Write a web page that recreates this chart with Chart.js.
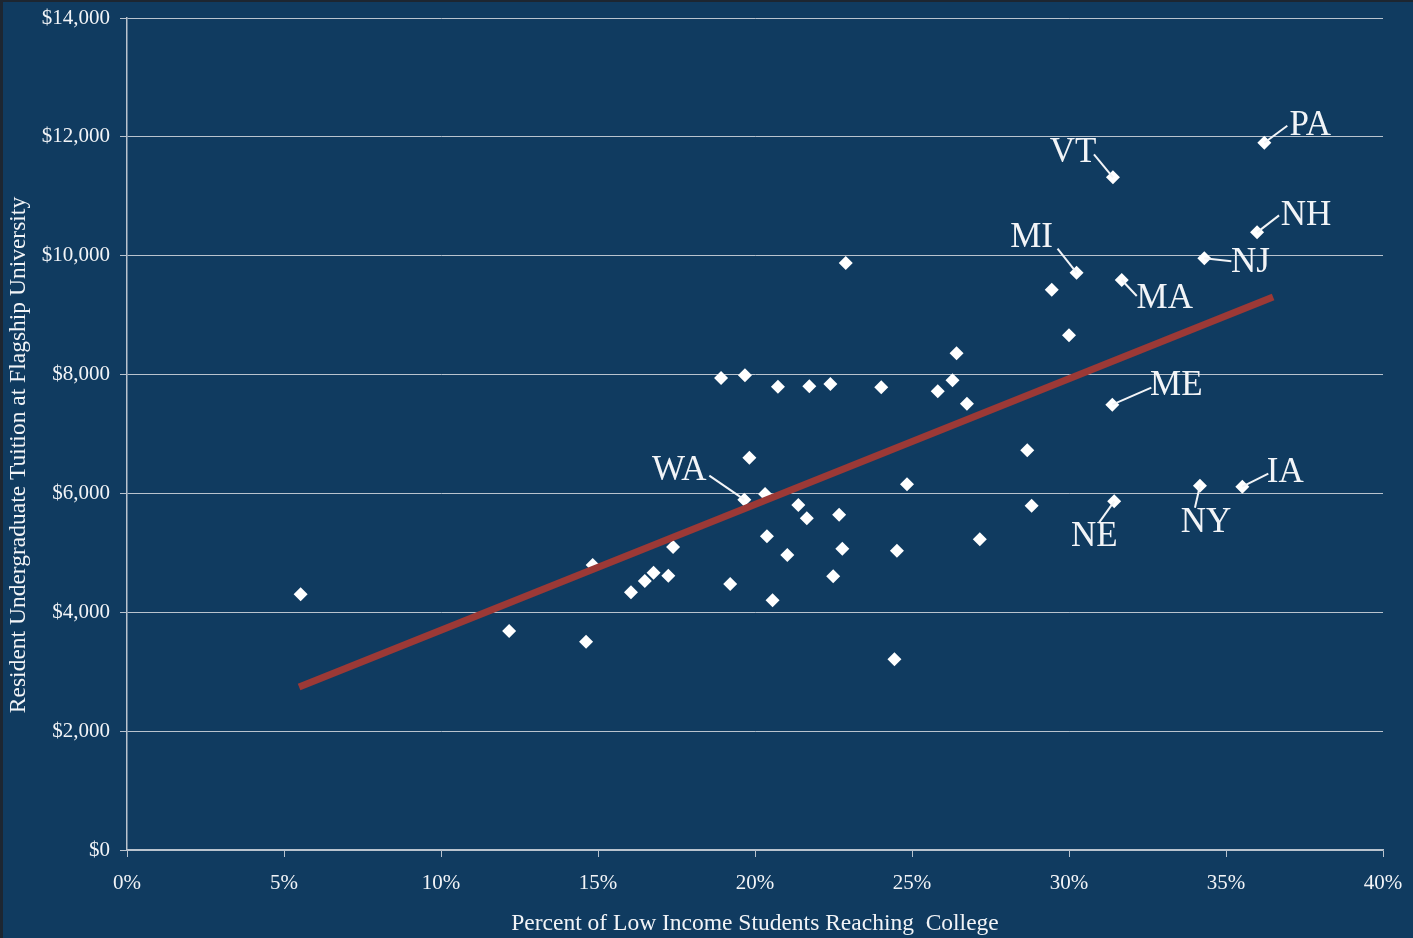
<!DOCTYPE html>
<html>
<head>
<meta charset="utf-8">
<script src="https://cdn.jsdelivr.net/npm/chart.js@4/dist/chart.umd.min.js"></script>
<style>
  html, body { margin: 0; padding: 0; background: #1d2631; overflow: hidden; }
  #wrap { position: absolute; left: 3px; top: 2px; width: 1410px; height: 936px; background: #103b60; }
</style>
</head>
<body>
<div id="wrap"><canvas id="lienzo" width="1410" height="936"></canvas></div>
<script>
// percent of low income students reaching college, per state
const pct = [
  5.53, 12.17, 14.62, 14.83, 16.05, 16.49, 16.77, 17.24, 17.39, 22.89,
  30.24, 29.45, 30.0, 26.42, 18.92, 19.68, 20.73, 21.73, 22.40, 24.02,
  26.29, 25.82, 26.75, 28.67, 19.82, 24.84, 19.66, 20.32, 21.38, 21.65,
  22.68, 28.81, 20.38, 21.03, 22.78, 24.52, 27.16, 19.21, 22.49, 20.56,
  24.44, 36.22, 31.40, 35.99, 34.31, 31.68, 31.38, 31.44, 34.17, 35.52
]
// resident undergraduate tuition at flagship university ($)
const tuition = [
  4302, 3685, 3505, 4796, 4336, 4526, 4667, 4616, 5098, 9877,
  9714, 9428, 8660, 8357, 7942, 7987, 7796, 7802, 7841, 7785,
  7903, 7718, 7510, 6725, 6601, 6153, 5895, 5990, 5805, 5581,
  5642, 5794, 5278, 4964, 5070, 5036, 5228, 4476, 4605, 4201,
  3209, 11902, 11319, 10393, 9956, 9591, 7493, 5867, 6130, 6114
]
const estado = [
  '', '', '', '', '', '', '', '', '', '',
  'MI', '', '', '', '', '', '', '', '', '',
  '', '', '', '', '', '', 'WA', '', '', '',
  '', '', '', '', '', '', '', '', '', '',
  '', 'PA', 'VT', 'NH', 'NJ', 'MA', 'ME', 'NE', 'NY', 'IA'
]
// trend line end points
const tendX = [5.48, 36.50]
const tendY = [2743, 9305]

const xTicks = [0, 5, 10, 15, 20, 25, 30, 35, 40]
const yTicks = [0, 2000, 4000, 6000, 8000, 10000, 12000, 14000]

const tituloX = 'Percent of Low Income Students Reaching  College'
const tituloY = 'Resident Undergraduate Tuition at Flagship University'

// label placement: [text dx, text baseline dy, leader end dx, leader end dy]
const etiquetas = {
  PA: [46, -8, 23, -17],
  VT: [-40, -15, -19, -23],
  NH: [49, -7, 22, -17],
  NJ: [46, 14, 27, 3],
  MI: [-45, -26, -19, -24],
  MA: [43, 28, 15, 16],
  ME: [64, -10, 39, -17],
  IA: [43, -5, 26, -13],
  NY: [6, 46, -5, 22],
  NE: [-20, 45, -15, 21],
  WA: [-65, -20, -35, -24]
}

const fuente = 'Liberation Serif'
const blanco = '#f2f4f7'
const rejilla = '#b9c3ce'

const puntos = pct.map((v, i) => ({x: v, y: tuition[i]}))
const linea = tendX.map((v, i) => ({x: v, y: tendY[i]}))

const nombres = {
  id: 'nombres',
  afterDatasetsDraw(chart) {
    const ctx = chart.ctx
    const meta = chart.getDatasetMeta(1)
    ctx.save()
    ctx.strokeStyle = blanco
    ctx.fillStyle = blanco
    ctx.lineWidth = 2
    ctx.font = '35px "' + fuente + '"'
    ctx.textAlign = 'center'
    ctx.textBaseline = 'alphabetic'
    estado.forEach((s, i) => {
      if (s == '') return
      const p = meta.data[i]
      const e = etiquetas[s]
      ctx.beginPath()
      ctx.moveTo(p.x, p.y)
      ctx.lineTo(p.x + e[2], p.y + e[3])
      ctx.stroke()
      ctx.fillText(s, p.x + e[0], p.y + e[1])
    })
    ctx.restore()
  },
  afterDraw(chart) {
    // vertical axis title
    const ctx = chart.ctx
    ctx.save()
    ctx.fillStyle = blanco
    ctx.font = '23.5px "' + fuente + '"'
    ctx.textAlign = 'center'
    ctx.textBaseline = 'middle'
    ctx.translate(16, 453)
    ctx.rotate(-Math.PI / 2)
    ctx.fillText(tituloY, 0, 0)
    ctx.restore()
  }
}

new Chart(document.getElementById('lienzo'), {
  type: 'scatter',
  data: {
    datasets: [{
      type: 'line',
      data: linea,
      borderColor: '#9c3936',
      borderWidth: 7,
      pointRadius: 0,
      borderCapStyle: 'butt'
    }, {
      data: puntos,
      pointStyle: 'rectRot',
      pointRadius: 7,
      backgroundColor: '#ffffff',
      borderColor: '#ffffff',
      borderWidth: 0
    }]
  },
  options: {
    responsive: false,
    animation: false,
    layout: { padding: { top: 16, right: 30, left: 0, bottom: 0 } },
    plugins: {
      legend: { display: false },
      tooltip: { enabled: false }
    },
    scales: {
      x: {
        type: 'linear',
        min: 0,
        max: 40,
        afterBuildTicks: (s) => { s.ticks = xTicks.map(v => ({value: v})) },
        afterFit: (s) => {
          s.height = 88
          s.paddingLeft = 0
          s.paddingRight = 0
        },
        ticks: {
          color: blanco,
          font: { family: fuente, size: 21 },
          padding: 14,
          maxRotation: 0,
          callback: (v) => v + '%'
        },
        grid: { drawOnChartArea: false, tickLength: 7, tickColor: rejilla, tickWidth: 1 },
        border: { color: rejilla, width: 1.5 },
        title: {
          display: true,
          text: tituloX,
          color: blanco,
          font: { family: fuente, size: 23.5 },
          padding: { top: 0, bottom: 0 }
        }
      },
      y: {
        type: 'linear',
        min: 0,
        max: 14000,
        afterBuildTicks: (s) => { s.ticks = yTicks.map(v => ({value: v})) },
        afterFit: (s) => {
          s.width = 124
          s.paddingTop = 0
          s.paddingBottom = 0
        },
        ticks: {
          color: blanco,
          font: { family: fuente, size: 21 },
          padding: 10,
          callback: (v) => '$' + v.toLocaleString('en-US')
        },
        grid: { color: rejilla, lineWidth: 1, tickLength: 7, tickColor: rejilla },
        border: { color: rejilla, width: 1.5 },
        title: { display: false }
      }
    }
  },
  plugins: [nombres]
})
</script>
</body>
</html>
